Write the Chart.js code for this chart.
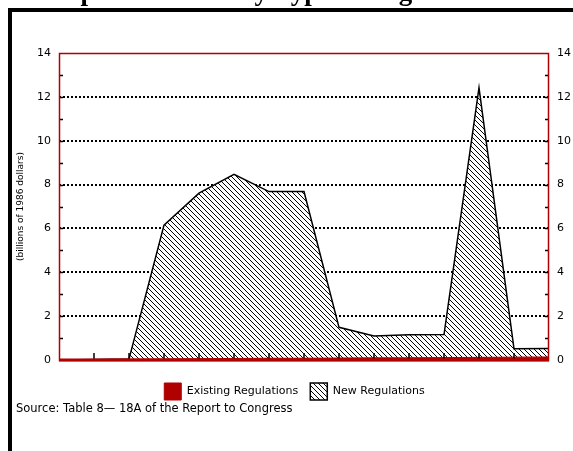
<!DOCTYPE html>
<html>
<head>
<meta charset="utf-8">
<script src="https://cdn.jsdelivr.net/npm/chart.js@4.4.0/dist/chart.umd.min.js"></script>
<style>
  body { margin: 0; background: #fff; overflow: hidden; }
  canvas { display: block; }
</style>
</head>
<body>
<canvas id="costChart" width="573" height="451"></canvas>
<script>
// values (billions of 1986 dollars)
const years = ['1986', '1987', '1988', '1989', '1990', '1991', '1992', '1993',
               '1994', '1995', '1996', '1997', '1998', '1999', '2000'];
const existingRegs = [0, 0.02, 0.04, 0.05, 0.06, 0.07, 0.08, 0.08, 0.09, 0.1, 0.1, 0.11, 0.12, 0.13, 0.14];
const newRegs = [0, 0, 0, 6.1, 7.55, 8.4, 7.6, 7.6, 1.4, 1.0, 1.05, 1.05, 12.3, 0.38, 0.38];
const yMin = 0, yMax = 14, yStep = 2;

const RED = '#b00000';
const canvas = document.getElementById('costChart');
const ctx = canvas.getContext('2d');

Chart.defaults.font.family = '"DejaVu Sans", sans-serif';
Chart.defaults.color = '#000';

// white background with \\\ hatching for the new regulations area
function makeHatch() {
    const c = document.createElement('canvas');
    c.width = 5; c.height = 5;
    const g = c.getContext('2d');
    g.fillStyle = '#fff';
    g.fillRect(0, 0, 5, 5);
    g.strokeStyle = '#000';
    g.lineWidth = 1;
    g.beginPath();
    g.moveTo(-1, -1); g.lineTo(6, 6);
    g.moveTo(-1, 4); g.lineTo(1, 6);
    g.moveTo(4, -1); g.lineTo(6, 1);
    g.stroke();
    return ctx.createPattern(c, 'repeat');
}

const decorations = {
    id: 'decorations',
    beforeDraw(chart) {
        const c = chart.ctx;
        c.save();
        c.fillStyle = '#fff';
        c.fillRect(0, 0, chart.width, chart.height);
        // black frame (left + top)
        c.fillStyle = '#000';
        c.fillRect(8, 8, 4, chart.height);
        c.fillRect(8, 8, chart.width, 4);
        c.restore();
    },
    afterDatasetsDraw(chart) {
        const c = chart.ctx;
        const a = chart.chartArea;
        const y = chart.scales.y, x = chart.scales.x;
        c.save();
        // minor ticks on both sides
        c.strokeStyle = '#000';
        c.lineWidth = 1.5;
        for (let v = 1; v < yMax; v++) {
            const py = Math.round(y.getPixelForValue(v)) + 0.5;
            c.beginPath();
            c.moveTo(a.left, py); c.lineTo(a.left + 4, py);
            c.moveTo(a.right - 4, py); c.lineTo(a.right, py);
            c.stroke();
        }
        // year ticks along the bottom
        for (let i = 1; i < years.length - 1; i++) {
            const px = Math.round(x.getPixelForValue(i));
            c.beginPath();
            c.moveTo(px, a.bottom); c.lineTo(px, a.bottom - 7);
            c.stroke();
        }
        // red plot frame
        c.strokeStyle = RED;
        c.lineWidth = 1.5;
        c.strokeRect(a.left + 0.5, a.top + 0.5, a.right - a.left - 1, a.bottom - a.top);
        c.lineWidth = 3;
        c.beginPath();
        c.moveTo(a.left, a.bottom); c.lineTo(a.right, a.bottom);
        c.stroke();
        c.restore();
    },
    afterDraw(chart) {
        const c = chart.ctx;
        c.save();
        c.fillStyle = '#000';
        c.font = 'bold 27px "Liberation Serif", serif';
        c.textBaseline = 'alphabetic';
        c.fillText('Compliance Costs by Type of Regulation', 25, 0);
        c.font = '11.5px "DejaVu Sans", sans-serif';
        c.textBaseline = 'middle';
        c.fillText('Source: Table 8\u2014 18A of the Report to Congress', 16, 409);
        c.restore();
    }
};

new Chart(ctx, {
    type: 'line',
    data: {
        labels: years,
        datasets: [
            {
                label: 'Existing Regulations',
                data: existingRegs,
                backgroundColor: RED,
                borderColor: RED,
                borderWidth: 1,
                fill: 'origin'
            },
            {
                label: 'New Regulations',
                data: newRegs,
                backgroundColor: makeHatch(),
                borderColor: '#000',
                borderWidth: 1.5,
                fill: '-1'
            }
        ]
    },
    options: {
        responsive: false,
        animation: false,
        layout: { padding: { top: 53, left: 16, right: 0, bottom: 41 } },
        elements: { point: { radius: 0 }, line: { tension: 0 } },
        plugins: {
            legend: {
                position: 'bottom',
                labels: { boxWidth: 17, boxHeight: 17, padding: 12, font: { size: 11 }, color: '#000' }
            },
            tooltip: { enabled: false },
            title: { display: false }
        },
        scales: {
            x: {
                offset: false,
                grid: { display: false },
                border: { display: false },
                ticks: { autoSkip: false, maxRotation: 0, padding: 4, font: { size: 10 } },
                afterFit(scale) { scale.height = 11; }
            },
            y: {
                stacked: true,
                min: yMin, max: yMax,
                ticks: { stepSize: yStep, padding: 8, font: { size: 11 } },
                grid: {
                    drawTicks: false,
                    lineWidth: 2,
                    color: c => (c.tick && c.tick.value > yMin && c.tick.value < yMax) ? '#000' : 'rgba(0,0,0,0)'
                },
                border: { display: false, dash: [2, 2] },
                title: {
                    display: true,
                    text: '(billions of 1986 dollars)',
                    font: { size: 9 },
                    padding: { top: -1, bottom: 0 }
                },
                afterFit(scale) { scale.width = 43; }
            },
            y2: {
                position: 'right',
                min: yMin, max: yMax,
                ticks: { stepSize: yStep, padding: 8, font: { size: 11 } },
                grid: { display: false, drawTicks: false },
                border: { display: false },
                afterFit(scale) { scale.width = 24; }
            }
        }
    },
    plugins: [decorations]
});
</script>
</body>
</html>
